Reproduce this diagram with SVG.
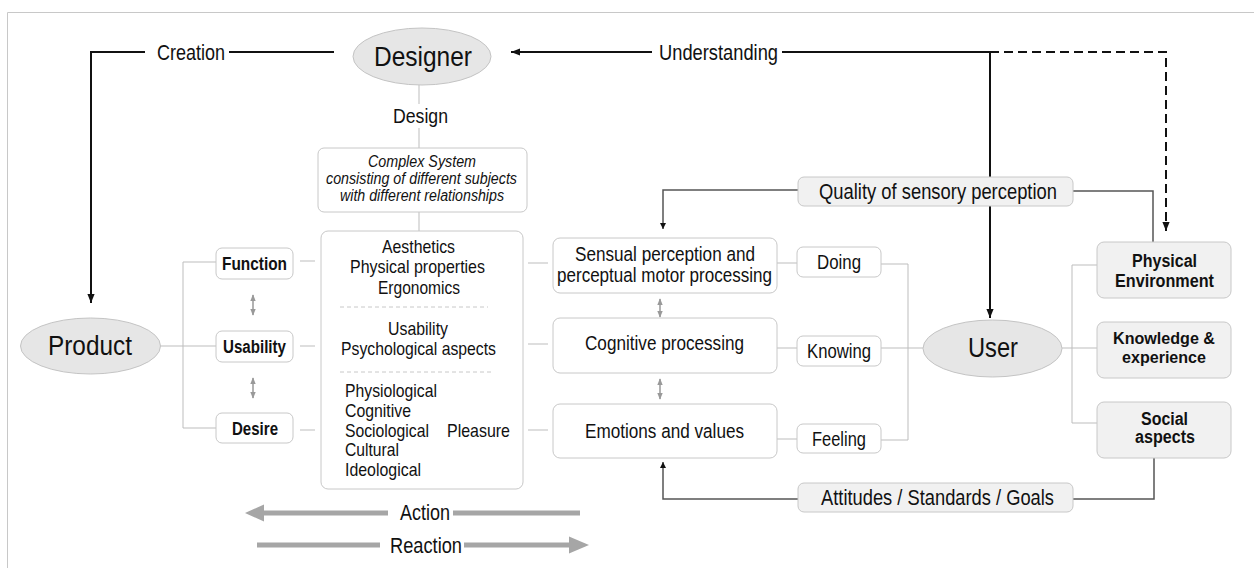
<svg xmlns="http://www.w3.org/2000/svg" width="1254" height="568" viewBox="0 0 1254 568">
  <defs>
    <marker id="arr" viewBox="0 0 10 10" refX="10" refY="5" markerWidth="6" markerHeight="6" markerUnits="userSpaceOnUse" orient="auto">
      <path d="M0,0 L10,5 L0,10 z" fill="#111"/>
    </marker>
    <marker id="arrBig" viewBox="0 0 10 10" refX="10" refY="5" markerWidth="9" markerHeight="9" markerUnits="userSpaceOnUse" orient="auto">
      <path d="M0,1 L10,5 L0,9 z" fill="#111"/>
    </marker>
    <marker id="arrGray" viewBox="0 0 10 10" refX="9" refY="5" markerWidth="7" markerHeight="7" markerUnits="userSpaceOnUse" orient="auto-start-reverse">
      <path d="M0,1 L10,5 L0,9 z" fill="#999"/>
    </marker>
    <style>
      text { font-family: "Liberation Sans", Arial, sans-serif; fill: #111; }
      .mid { text-anchor: middle; }
      .ell { fill: #e6e6e6; stroke: #c4c4c4; stroke-width: 1; }
      .box { fill: #ffffff; stroke: #c8c8c8; stroke-width: 1; }
      .gbox { fill: #f1f1f1; stroke: #c8c8c8; stroke-width: 1; }
      .thin { fill: none; stroke: #bdbdbd; stroke-width: 1; }
      .dark { fill: none; stroke: #555; stroke-width: 1.5; }
      .black { fill: none; stroke: #111; stroke-width: 2; }
      .dash { fill: none; stroke: #111; stroke-width: 2; stroke-dasharray: 9 5; }
      .dbl { fill: none; stroke: #999; stroke-width: 1.5; }
      .big { fill: none; stroke: #a6a6a6; stroke-width: 5; }
      .t20 { font-size: 21.5px; }
      .t17 { font-size: 18.5px; }
      .t19 { font-size: 20.5px; }
      .b17 { font-size: 18px; font-weight: bold; }
      .it { font-size: 16px; font-style: italic; }
    </style>
  </defs>

  <!-- frame -->
  <path d="M7.5,568 V12.5 H1254" fill="none" stroke="#c8c8c8" stroke-width="1"/>

  <!-- connectors -->
  <g id="connectors">
    <!-- Creation: Designer to Product -->
    <path class="black" d="M145,52 H91 V303" marker-end="url(#arrBig)"/>
    <path class="black" d="M229,52 H334"/>
    <!-- Understanding: User to Designer -->
    <path class="black" d="M652,52 H511" marker-end="url(#arrBig)"/>
    <path class="black" d="M782,52 H990 V318" marker-end="url(#arrBig)"/>
    <path class="dash" d="M990,52 H1166 V231" marker-end="url(#arrBig)"/>
    <!-- Designer / Design / complex system -->
    <path class="thin" d="M419,85 V104 M419,128 V148 M419,212 V231"/>
    <!-- Product bracket -->
    <path class="thin" d="M160,346 H216 M216,262 H183 V428 H216"/>
    <path class="thin" d="M300,261 H315 M300,346 H315 M300,430 H315"/>
    <path class="dbl" d="M253,295 V315" marker-start="url(#arrGray)" marker-end="url(#arrGray)"/>
    <path class="dbl" d="M253,378 V398" marker-start="url(#arrGray)" marker-end="url(#arrGray)"/>
    <path class="thin" d="M528,263 H548 M528,344 H548 M528,430 H548"/>
    <!-- processing column -->
    <path class="dbl" d="M660,299 V317" marker-start="url(#arrGray)" marker-end="url(#arrGray)"/>
    <path class="dbl" d="M660,379 V399" marker-start="url(#arrGray)" marker-end="url(#arrGray)"/>
    <path class="thin" d="M777,263 H797 M777,348 H797 M777,439 H797"/>
    <!-- Doing / Knowing / Feeling to User -->
    <path class="thin" d="M881,264 H908 V440 H881 M881,348 H923"/>
    <!-- User bracket -->
    <path class="thin" d="M1062,348 H1097 M1097,265 H1072 V423 H1097"/>
    <!-- Quality of sensory perception -->
    <path class="dark" d="M798,190 H663 V229" marker-end="url(#arr)"/>
    <path class="dark" d="M1073,191 H1153 V242"/>
    <!-- Attitudes / Standards / Goals -->
    <path class="dark" d="M798,499 H663 V462" marker-end="url(#arr)"/>
    <path class="dark" d="M1073,499 H1154 V458"/>
    <!-- Action / Reaction -->
    <path class="big" d="M262,513 H388 M453,513 H580"/>
    <path d="M245,513 L264,504.5 L264,521.5 z" fill="#a6a6a6"/>
    <path class="big" d="M257,545 H380 M464,545 H570"/>
    <path d="M589,545 L569,536.5 L569,553.5 z" fill="#a6a6a6"/>
  </g>

  <!-- labels on connectors -->
  <text class="t20 mid" x="191" y="60" textLength="68" lengthAdjust="spacingAndGlyphs">Creation</text>
  <text class="t20 mid" x="718.5" y="60" textLength="119" lengthAdjust="spacingAndGlyphs">Understanding</text>
  <text class="t19 mid" x="420.5" y="123" textLength="55" lengthAdjust="spacingAndGlyphs">Design</text>
  <text class="t20 mid" x="425" y="520" textLength="50" lengthAdjust="spacingAndGlyphs">Action</text>
  <text class="t20 mid" x="426" y="553" textLength="72" lengthAdjust="spacingAndGlyphs">Reaction</text>

  <g id="designer">
    <ellipse class="ell" cx="422" cy="56.5" rx="69" ry="28.5"/>
    <text class="mid" x="423" y="65.5" font-size="28.5" textLength="98" lengthAdjust="spacingAndGlyphs">Designer</text>
  </g>

  <g id="complex-system">
    <rect class="box" x="318" y="148" width="209" height="64" rx="6"/>
    <text class="it mid" x="422" y="167" textLength="108" lengthAdjust="spacingAndGlyphs">Complex System</text>
    <text class="it mid" x="421.5" y="184" textLength="191" lengthAdjust="spacingAndGlyphs">consisting of different subjects</text>
    <text class="it mid" x="422" y="201" textLength="164" lengthAdjust="spacingAndGlyphs">with different relationships</text>
  </g>

  <g id="product">
    <ellipse class="ell" cx="90.5" cy="346" rx="70" ry="28"/>
    <text class="mid" x="90" y="354.5" font-size="27" textLength="84" lengthAdjust="spacingAndGlyphs">Product</text>
  </g>

  <g id="function">
    <rect class="box" x="216" y="248" width="77" height="31" rx="6"/>
    <text class="b17 mid" x="254.5" y="269.5" textLength="65" lengthAdjust="spacingAndGlyphs">Function</text>
  </g>
  <g id="usability">
    <rect class="box" x="216" y="331" width="77" height="31" rx="6"/>
    <text class="b17 mid" x="254.5" y="352.5" textLength="63" lengthAdjust="spacingAndGlyphs">Usability</text>
  </g>
  <g id="desire">
    <rect class="box" x="216" y="413" width="77" height="30" rx="6"/>
    <text class="b17 mid" x="255" y="434.5" textLength="46" lengthAdjust="spacingAndGlyphs">Desire</text>
  </g>

  <g id="product-aspects">
    <rect class="box" x="321" y="231" width="202" height="258" rx="7"/>
    <text class="t17 mid" x="418.5" y="253" textLength="73" lengthAdjust="spacingAndGlyphs">Aesthetics</text>
    <text class="t17 mid" x="417.5" y="273" textLength="135" lengthAdjust="spacingAndGlyphs">Physical properties</text>
    <text class="t17 mid" x="419" y="294" textLength="82" lengthAdjust="spacingAndGlyphs">Ergonomics</text>
    <path d="M340,307 H488" stroke="#c8c8c8" stroke-width="1" stroke-dasharray="4 3"/>
    <text class="t17 mid" x="418" y="335" textLength="60" lengthAdjust="spacingAndGlyphs">Usability</text>
    <text class="t17 mid" x="418.5" y="355" textLength="155" lengthAdjust="spacingAndGlyphs">Psychological aspects</text>
    <path d="M340,372 H493" stroke="#c8c8c8" stroke-width="1" stroke-dasharray="4 3"/>
    <text class="t17" x="345" y="397" textLength="92" lengthAdjust="spacingAndGlyphs">Physiological</text>
    <text class="t17" x="345" y="417" textLength="66" lengthAdjust="spacingAndGlyphs">Cognitive</text>
    <text class="t17" x="345" y="437" textLength="84" lengthAdjust="spacingAndGlyphs">Sociological</text>
    <text class="t17" x="345" y="456" textLength="54" lengthAdjust="spacingAndGlyphs">Cultural</text>
    <text class="t17" x="345" y="476" textLength="76" lengthAdjust="spacingAndGlyphs">Ideological</text>
    <text class="t17" x="447" y="437" textLength="63" lengthAdjust="spacingAndGlyphs">Pleasure</text>
  </g>

  <g id="sensual-perception">
    <rect class="box" x="553" y="238" width="224" height="55" rx="7"/>
    <text class="t19 mid" x="665" y="261" textLength="180" lengthAdjust="spacingAndGlyphs">Sensual perception and</text>
    <text class="t19 mid" x="664.5" y="282" textLength="215" lengthAdjust="spacingAndGlyphs">perceptual motor processing</text>
  </g>
  <g id="cognitive-processing">
    <rect class="box" x="553" y="318" width="224" height="55" rx="7"/>
    <text class="t19 mid" x="664.5" y="349.5" textLength="159" lengthAdjust="spacingAndGlyphs">Cognitive processing</text>
  </g>
  <g id="emotions">
    <rect class="box" x="553" y="404" width="224" height="54" rx="7"/>
    <text class="t19 mid" x="664.5" y="437.5" textLength="159" lengthAdjust="spacingAndGlyphs">Emotions and values</text>
  </g>

  <g id="doing">
    <rect class="box" x="797" y="247" width="84" height="30" rx="6"/>
    <text class="t19 mid" x="839" y="268.5" textLength="44" lengthAdjust="spacingAndGlyphs">Doing</text>
  </g>
  <g id="knowing">
    <rect class="box" x="797" y="336" width="84" height="30" rx="6"/>
    <text class="t19 mid" x="839" y="357.5" textLength="64" lengthAdjust="spacingAndGlyphs">Knowing</text>
  </g>
  <g id="feeling">
    <rect class="box" x="797" y="424" width="84" height="29" rx="6"/>
    <text class="t19 mid" x="839" y="445.5" textLength="54" lengthAdjust="spacingAndGlyphs">Feeling</text>
  </g>

  <g id="quality">
    <rect class="gbox" x="798" y="177" width="275" height="29" rx="6"/>
    <text class="t20 mid" x="938" y="198.5" textLength="238" lengthAdjust="spacingAndGlyphs">Quality of sensory perception</text>
  </g>
  <g id="attitudes">
    <rect class="gbox" x="798" y="483" width="275" height="29" rx="6"/>
    <text class="t20 mid" x="937.5" y="505" textLength="233" lengthAdjust="spacingAndGlyphs">Attitudes / Standards / Goals</text>
  </g>

  <g id="user">
    <ellipse class="ell" cx="992.5" cy="348.5" rx="69.5" ry="28.5"/>
    <text class="mid" x="993" y="357" font-size="28" textLength="50" lengthAdjust="spacingAndGlyphs">User</text>
  </g>

  <g id="physical-environment">
    <rect class="gbox" x="1097" y="242" width="134" height="56" rx="7"/>
    <text class="b17 mid" x="1164.5" y="267" textLength="65" lengthAdjust="spacingAndGlyphs">Physical</text>
    <text class="b17 mid" x="1164.5" y="287" textLength="99" lengthAdjust="spacingAndGlyphs">Environment</text>
  </g>
  <g id="knowledge">
    <rect class="gbox" x="1097" y="322" width="134" height="56" rx="7"/>
    <text class="mid" x="1164" y="344" font-size="17" font-weight="bold" textLength="102" lengthAdjust="spacingAndGlyphs">Knowledge &amp;</text>
    <text class="mid" x="1164" y="363" font-size="17" font-weight="bold" textLength="84" lengthAdjust="spacingAndGlyphs">experience</text>
  </g>
  <g id="social-aspects">
    <rect class="gbox" x="1097" y="402" width="134" height="56" rx="7"/>
    <text class="b17 mid" x="1164.5" y="425" textLength="47" lengthAdjust="spacingAndGlyphs">Social</text>
    <text class="b17 mid" x="1165" y="443" textLength="60" lengthAdjust="spacingAndGlyphs">aspects</text>
  </g>
</svg>
